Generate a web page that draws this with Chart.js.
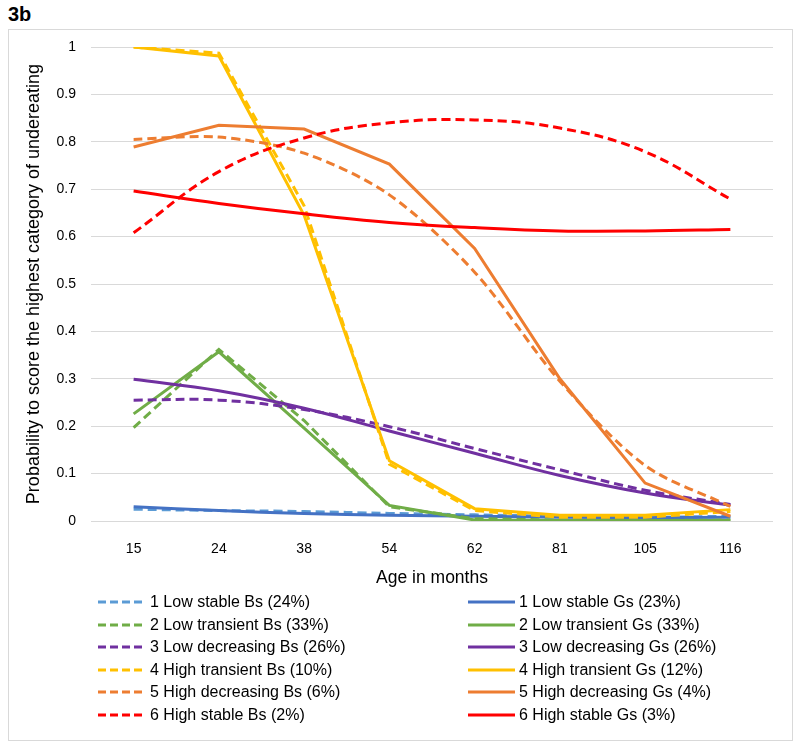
<!DOCTYPE html>
<html>
<head>
<meta charset="utf-8">
<script src="https://cdn.jsdelivr.net/npm/chart.js@4.4.1/dist/chart.umd.min.js"></script>
<style>
  body { margin: 0; background: #fff; font-family: "Liberation Sans", Arial, sans-serif; }
  #wrap { position: relative; width: 800px; height: 748px; }
  #tag { position: absolute; left: 8px; top: 3px; font-weight: bold; font-size: 20px; color: #000; }
  #frame { position: absolute; left: 8px; top: 29px; width: 783px; height: 710px; border: 1px solid #d9d9d9; }
  #chart { position: absolute; left: 0; top: 0; }
  .leg { position: absolute; height: 20px; display: flex; align-items: center; font-size: 16px; color: #000; white-space: nowrap; }
  .leg svg { flex: none; }
</style>
</head>
<body>
<div id="wrap">
  <div id="tag">3b</div>
  <div id="frame"></div>
  <canvas id="chart" width="800" height="748"></canvas>
  <div id="legend"></div>
</div>
<script>
const ages = ['15', '24', '38', '54', '62', '81', '105', '116'];
const yTickLabels = ['0', '0.1', '0.2', '0.3', '0.4', '0.5', '0.6', '0.7', '0.8', '0.9', '1'];

const lowStableBs = [0.025, 0.022, 0.020, 0.016, 0.013, 0.010, 0.008, 0.010];
const lowStableGs = [0.030, 0.022, 0.016, 0.012, 0.010, 0.008, 0.007, 0.008];
const lowTransientBs = [0.197, 0.362, 0.212, 0.030, 0.005, 0.002, 0.001, 0.002];
const lowTransientGs = [0.226, 0.357, 0.196, 0.033, 0.002, 0.001, 0.001, 0.001];
const lowDecreasingBs = [0.255, 0.255, 0.235, 0.199, 0.153, 0.108, 0.065, 0.035];
const lowDecreasingGs = [0.299, 0.275, 0.238, 0.190, 0.143, 0.096, 0.059, 0.033];
const highTransientBs = [1.000, 0.987, 0.665, 0.120, 0.022, 0.008, 0.008, 0.020];
const highTransientGs = [1.000, 0.981, 0.645, 0.127, 0.026, 0.012, 0.012, 0.024];
const highDecreasingBs = [0.805, 0.810, 0.776, 0.688, 0.525, 0.295, 0.117, 0.031];
const highDecreasingGs = [0.789, 0.835, 0.827, 0.753, 0.575, 0.300, 0.080, 0.010];
const highStableBs = [0.608, 0.737, 0.808, 0.840, 0.846, 0.829, 0.779, 0.679];
const highStableGs = [0.696, 0.670, 0.648, 0.630, 0.619, 0.612, 0.612, 0.615];

const boysLabels = ['1 Low stable Bs (24%)', '2 Low transient Bs (33%)', '3 Low decreasing Bs (26%)',
  '4 High transient Bs (10%)', '5 High decreasing Bs (6%)', '6 High stable Bs (2%)'];
const girlsLabels = ['1 Low stable Gs (23%)', '2 Low transient Gs (33%)', '3 Low decreasing Gs (26%)',
  '4 High transient Gs (12%)', '5 High decreasing Gs (4%)', '6 High stable Gs (3%)'];

const boysData = [lowStableBs, lowTransientBs, lowDecreasingBs, highTransientBs, highDecreasingBs, highStableBs];
const girlsData = [lowStableGs, lowTransientGs, lowDecreasingGs, highTransientGs, highDecreasingGs, highStableGs];

const boysColors = ['#5b9bd5', '#70ad47', '#7030a0', '#ffc000', '#ed7d31', '#ff0000'];
const girlsColors = ['#4472c4', '#70ad47', '#7030a0', '#ffc000', '#ed7d31', '#ff0000'];
// smoothed series look curved in the original, the others have hard corners
const boysTension = [0.4, 0, 0.4, 0, 0.3, 0.4];
const girlsTension = [0.4, 0, 0.4, 0, 0, 0.4];

const DASH = [9, 5];
const FONT = '"Liberation Sans", Arial, sans-serif';

const datasets = [];
for (let i = 5; i >= 0; i--) {
    datasets.push({
        label: girlsLabels[i], data: girlsData[i], borderColor: girlsColors[i],
        borderWidth: 3, pointRadius: 0, tension: girlsTension[i], fill: false
    });
    datasets.push({
        label: boysLabels[i], data: boysData[i], borderColor: boysColors[i],
        borderWidth: 3, pointRadius: 0, tension: boysTension[i], fill: false, borderDash: DASH
    });
}

const ctx = document.getElementById('chart').getContext('2d');
new Chart(ctx, {
    type: 'line',
    data: { labels: ages, datasets: datasets },
    options: {
        responsive: false,
        animation: false,
        layout: { padding: { left: 0, right: 27, top: 47, bottom: 153 } },
        plugins: { legend: { display: false }, tooltip: { enabled: false } },
        scales: {
            x: {
                offset: true,
                grid: { display: false },
                border: { display: false },
                ticks: { color: '#000', font: { family: FONT, size: 14 }, padding: 12, maxRotation: 0 },
                title: { display: true, text: 'Age in months', color: '#000', font: { family: FONT, size: 17.5 }, padding: { top: 0, bottom: 6 } },
                afterFit(scale) { scale.height = 74; }
            },
            y: {
                min: 0, max: 1,
                ticks: {
                    stepSize: 0.1, color: '#000', font: { family: FONT, size: 14 }, padding: 15,
                    callback: (v, i) => yTickLabels[i]
                },
                grid: { color: '#d9d9d9', lineWidth: 1, drawTicks: false },
                border: { display: false },
                title: { display: true, text: 'Probability to score the highest category of undereating', color: '#000', font: { family: FONT, size: 18 }, padding: { top: 23, bottom: 0 } },
                afterFit(scale) { scale.width = 91; }
            }
        }
    }
});

// two-column legend, Bs on the left, Gs on the right
const legend = document.getElementById('legend');
function addItem(text, color, dashed, left, top, lineW, gap) {
    const el = document.createElement('div');
    el.className = 'leg';
    el.style.left = left + 'px';
    el.style.top = (top - 10) + 'px';
    const dash = dashed ? ' stroke-dasharray="8 4"' : '';
    el.innerHTML = '<svg width="' + lineW + '" height="6"><line x1="0" y1="3" x2="' + lineW + '" y2="3" stroke="' + color +
        '" stroke-width="3"' + dash + '/></svg><span style="margin-left:' + gap + 'px">' + text + '</span>';
    legend.appendChild(el);
}
for (let i = 0; i < 6; i++) {
    const y = 602 + i * 22.6;
    addItem(boysLabels[i], boysColors[i], true, 98, y, 44, 8);
    addItem(girlsLabels[i], girlsColors[i], false, 468, y, 47, 4);
}
</script>
</body>
</html>
